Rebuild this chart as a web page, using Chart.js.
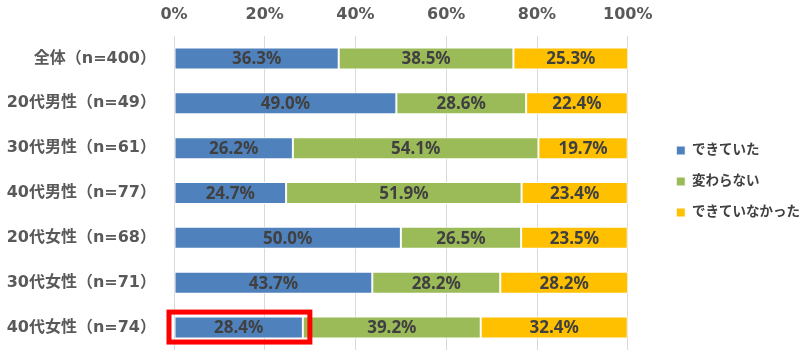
<!DOCTYPE html>
<html>
<head>
<meta charset="utf-8">
<script src="https://cdn.jsdelivr.net/npm/chart.js@4.4.1/dist/chart.umd.min.js"></script>
<style>
  body { margin: 0; background: #fff; }
  #wrap { width: 810px; height: 364px; }
</style>
</head>
<body>
<div id="wrap"><canvas id="barChart"></canvas></div>
<script>
const categories = ['全体（n=400）', '20代男性（n=49）', '30代男性（n=61）', '40代男性（n=77）', '20代女性（n=68）', '30代女性（n=71）', '40代女性（n=74）'];
const couldDo = [36.3, 49.0, 26.2, 24.7, 50.0, 43.7, 28.4];
const noChange = [38.5, 28.6, 54.1, 51.9, 26.5, 28.2, 39.2];
const couldNot = [25.3, 22.4, 19.7, 23.4, 23.5, 28.2, 32.4];
const seriesNames = ['できていた', '変わらない', 'できていなかった'];
const xTicks = [0, 20, 40, 60, 80, 100];
const highlightIndex = 6;

const fontFamily = "'DejaVu Sans', 'Noto Sans CJK JP', sans-serif";
const labelFamily = "'Noto Sans', 'DejaVu Sans', sans-serif";

// extra room between plot and legend, legend nudged down a bit
const legendGap = 31;
const legendLift = -4;

// draw the value text in the middle of each segment
const segmentLabels = {
  id: 'segmentLabels',
  afterDatasetsDraw(chart) {
    const { ctx } = chart;
    ctx.save();
    ctx.font = `bold 17px ${labelFamily}`;
    ctx.fillStyle = '#404040';
    ctx.textAlign = 'center';
    ctx.textBaseline = 'middle';
    chart.data.datasets.forEach((ds, di) => {
      chart.getDatasetMeta(di).data.forEach((bar, i) => {
        const p = bar.getProps(['x', 'y', 'base'], true);
        ctx.fillText(ds.data[i].toFixed(1) + '%', (p.x + p.base) / 2, p.y + 1);
      });
    });
    ctx.restore();
  }
};

// red frame around the first segment of the highlighted row
const highlightBox = {
  id: 'highlightBox',
  afterDraw(chart) {
    const bar = chart.getDatasetMeta(0).data[highlightIndex];
    if (!bar) return;
    const p = bar.getProps(['x', 'y', 'base', 'height'], true);
    const { ctx } = chart;
    ctx.save();
    ctx.strokeStyle = '#FF0000';
    ctx.lineWidth = 5;
    ctx.strokeRect(p.base - 5.5, p.y - p.height / 2 - 4.5, p.x - p.base + 12.5, p.height + 8);
    ctx.restore();
  }
};

// widen the legend box so the plot stops short of it, then move the items back
const legendSpacing = {
  id: 'legendSpacing',
  beforeInit(chart) {
    const legend = chart.legend;
    const fit = legend.fit;
    legend.fit = function () {
      fit.call(this);
      this.width += legendGap;
    };
  },
  afterLayout(chart) {
    const legend = chart.legend;
    legend.left += legendGap;
    legend.top -= legendLift;
    legend.bottom -= legendLift;
  }
};

new Chart(document.getElementById('barChart'), {
  type: 'bar',
  data: {
    labels: categories,
    datasets: [
      { label: seriesNames[0], data: couldDo, backgroundColor: '#4F81BD' },
      { label: seriesNames[1], data: noChange, backgroundColor: '#9BBB59' },
      { label: seriesNames[2], data: couldNot, backgroundColor: '#FFC000' }
    ].map(d => Object.assign(d, { borderColor: '#FFFFFF', borderWidth: 1, borderSkipped: false, barPercentage: 0.49, categoryPercentage: 1 }))
  },
  options: {
    indexAxis: 'y',
    responsive: true,
    maintainAspectRatio: false,
    animation: false,
    layout: { padding: { top: 5, right: 0, bottom: 14, left: 6 } },
    plugins: {
      tooltip: { enabled: false },
      legend: {
        position: 'right',
        labels: {
          boxWidth: 9,
          boxHeight: 9,
          padding: 17.5,
          color: '#404040',
          font: { family: fontFamily, size: 13.5, weight: 'bold' }
        }
      }
    },
    scales: {
      x: {
        position: 'top',
        stacked: true,
        min: 0,
        max: 100,
        afterBuildTicks(axis) { axis.ticks = xTicks.map(v => ({ value: v })); },
        afterFit(axis) { axis.height = 31; axis.paddingLeft = 0; },
        grid: { color: '#D9D9D9', drawTicks: false },
        border: { display: false },
        ticks: {
          padding: 12,
          maxRotation: 0,
          color: '#595959',
          font: { family: fontFamily, size: 16, weight: 'bold' },
          callback: v => v + '%'
        }
      },
      y: {
        stacked: true,
        grid: { display: false, drawTicks: false },
        border: { display: false },
        // fixed width, and no room reserved above/below the category bands
        afterFit(axis) { axis.width = 168; axis.paddingTop = 0; axis.paddingBottom = 0; },
        ticks: {
          padding: 18,
          color: '#595959',
          font: { family: fontFamily, size: 16, weight: 'bold' }
        }
      }
    }
  },
  plugins: [segmentLabels, highlightBox, legendSpacing]
});
</script>
</body>
</html>
